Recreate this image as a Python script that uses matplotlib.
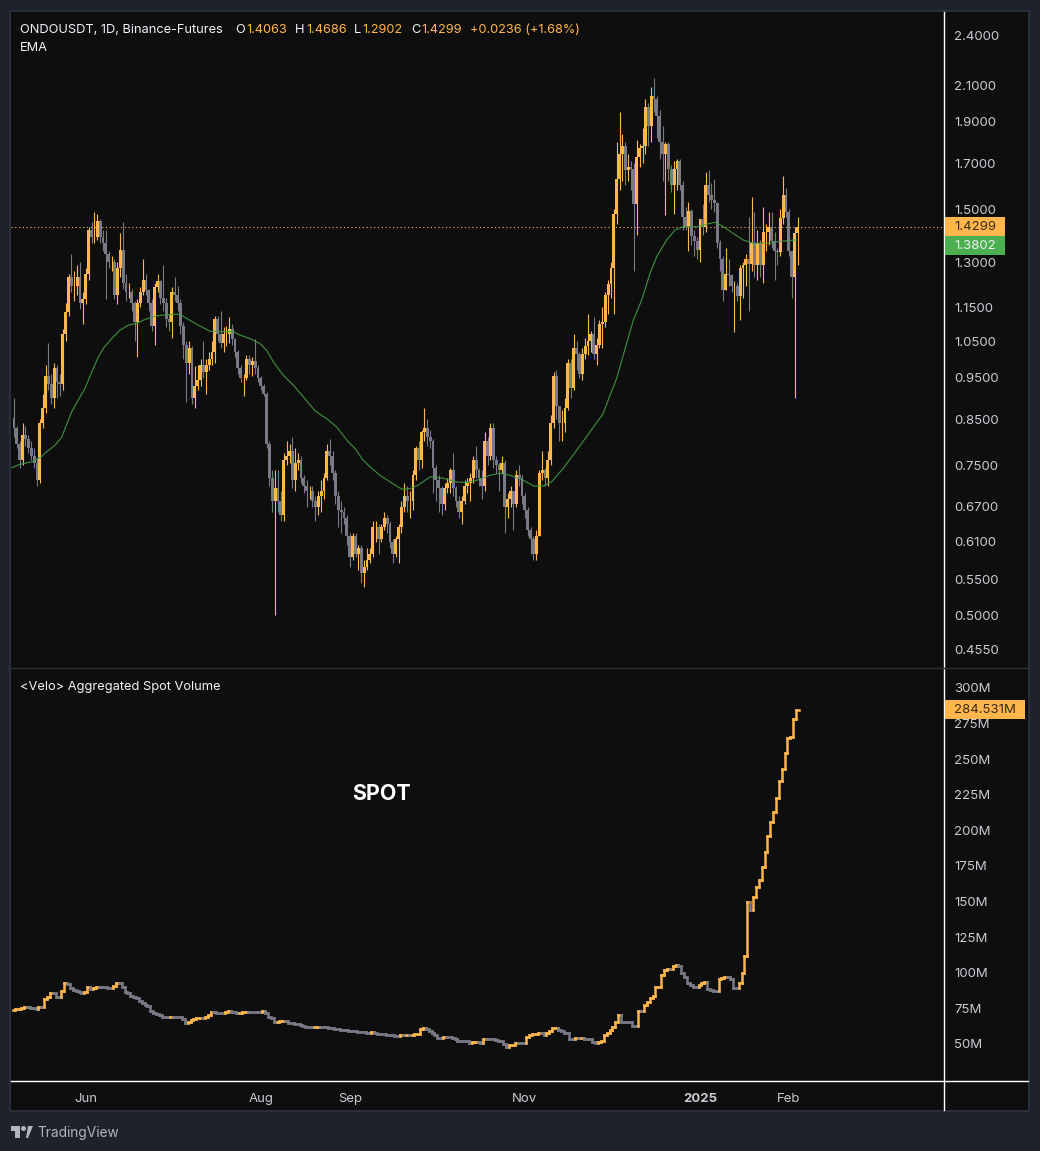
import numpy as np
import matplotlib
matplotlib.use("Agg")
import matplotlib.pyplot as plt
from matplotlib.collections import LineCollection
from matplotlib.patches import Rectangle, Polygon, Circle

plt.rcParams["font.family"] = ["Inter", "DejaVu Sans"]

start_day = np.datetime64("2024-05-07")

first_open = 0.853
closes = [
    .83, .795, .76, .815, .805, .785, .77, .755, .72, .84,
    .875, .955, .935, .90, .975, .94, .935, 1.07, 1.135, 1.25,
    1.22, 1.22, 1.25, 1.165, 1.175, 1.26, 1.42, 1.39, 1.39, 1.455,
    1.39, 1.37, 1.33, 1.30, 1.30, 1.19, 1.28, 1.345, 1.23, 1.20,
    1.20, 1.165, 1.105, 1.165, 1.20, 1.24, 1.205, 1.165, 1.095, 1.215,
    1.235, 1.18, 1.165, 1.115, 1.105, 1.20, 1.19, 1.165, 1.095, 1.04,
    .99, 1.03, .90, .93, .945, .985, .965, .985, 1.00, 1.02,
    1.115, 1.07, 1.045, 1.07, 1.07, 1.085, 1.055, 1.02, .975, .95,
    .95, 1.0, .985, .995, .975, .95, .93, .91, .795, .725,
    .68, .705, .68, .655, .76, .77, .78, .72, .755, .76,
    .725, .71, .70, .70, .68, .67, .69, .70, .725, .78,
    .77, .735, .69, .665, .66, .65, .62, .585, .62, .59,
    .60, .56, .57, .58, .59, .635, .635, .615, .635, .65,
    .64, .61, .59, .615, .635, .67, .69, .68, .68, .73,
    .785, .76, .82, .83, .81, .80, .745, .72, .705, .675,
    .705, .715, .74, .705, .68, .66, .68, .71, .715, .725,
    .76, .74, .725, .71, .80, .77, .83, .76, .75, .74,
    .755, .67, .685, .70, .675, .73, .725, .69, .665, .63,
    .615, .59, .62, .735, .74, .725, .76, .84, .955, .88,
    .84, .84, .875, .99, .925, 1.03, 1.015, .96, 1.015, 1.035,
    1.05, 1.07, 1.015, 1.04, 1.10, 1.105, 1.19, 1.225, 1.28, 1.48,
    1.63, 1.74, 1.78, 1.67, 1.68, 1.675, 1.52, 1.73, 1.77, 1.78,
    1.98, 1.88, 2.04, 2.02, 1.93, 1.80, 1.74, 1.79, 1.675, 1.60,
    1.675, 1.71, 1.60, 1.47, 1.43, 1.495, 1.395, 1.375, 1.345, 1.46,
    1.43, 1.60, 1.56, 1.54, 1.525, 1.37, 1.31, 1.205, 1.26, 1.255,
    1.22, 1.22, 1.185, 1.28, 1.29, 1.31, 1.295, 1.37, 1.29, 1.37,
    1.29, 1.41, 1.41, 1.43, 1.375, 1.34, 1.335, 1.465, 1.56, 1.49,
    1.34, 1.25, 1.405, 1.4299,
]
highs = [
    .90, .835, .80, .84, .835, .815, .80, .785, .765, .85,
    .91, .985, 1.045, .96, .99, .985, .96, 1.085, 1.165, 1.26,
    1.33, 1.27, 1.29, 1.30, 1.20, 1.28, 1.43, 1.45, 1.49, 1.48,
    1.46, 1.42, 1.42, 1.34, 1.32, 1.31, 1.30, 1.405, 1.45, 1.26,
    1.23, 1.21, 1.17, 1.175, 1.215, 1.31, 1.26, 1.21, 1.175, 1.23,
    1.26, 1.24, 1.29, 1.18, 1.13, 1.215, 1.25, 1.22, 1.175, 1.105,
    1.05, 1.05, 1.035, .98, .985, 1.0, 1.05, 1.0, 1.02, 1.05,
    1.125, 1.125, 1.14, 1.09, 1.095, 1.12, 1.10, 1.06, 1.025, .985,
    .96, 1.01, 1.01, 1.005, 1.055, .985, .955, .935, .915, .80,
    .74, .74, .74, .70, .775, .80, .795, .81, .785, .775,
    .77, .73, .72, .71, .71, .69, .70, .72, .735, .795,
    .805, .78, .74, .70, .68, .67, .655, .625, .625, .625,
    .605, .605, .58, .60, .60, .645, .645, .64, .64, .66,
    .655, .645, .615, .62, .64, .68, .715, .71, .70, .74,
    .79, .80, .825, .875, .85, .825, .805, .75, .73, .71,
    .715, .725, .745, .775, .71, .69, .69, .72, .725, .735,
    .77, .79, .745, .74, .82, .81, .84, .84, .77, .755,
    .77, .76, .695, .71, .70, .74, .75, .73, .695, .67,
    .635, .62, .63, .74, .78, .745, .78, .86, .965, .97,
    .88, .87, .90, 1.00, 1.00, 1.07, 1.05, 1.02, 1.03, 1.06,
    1.13, 1.08, 1.12, 1.06, 1.11, 1.15, 1.20, 1.24, 1.30, 1.50,
    1.80, 1.95, 1.84, 1.80, 1.74, 1.71, 1.70, 1.81, 1.79, 1.87,
    2.02, 2.0, 2.09, 2.14, 2.04, 1.96, 1.88, 1.80, 1.80, 1.69,
    1.71, 1.72, 1.72, 1.62, 1.51, 1.53, 1.50, 1.42, 1.39, 1.46,
    1.52, 1.66, 1.67, 1.61, 1.63, 1.53, 1.38, 1.32, 1.35, 1.31,
    1.26, 1.235, 1.23, 1.29, 1.30, 1.33, 1.47, 1.55, 1.49, 1.42,
    1.38, 1.51, 1.44, 1.49, 1.49, 1.41, 1.35, 1.50, 1.64, 1.59,
    1.50, 1.34, 1.43, 1.4686,
]
lows = [
    .81, .785, .745, .75, .79, .775, .76, .745, .71, .715,
    .83, .865, .92, .885, .875, .90, .905, .92, 1.05, 1.125,
    1.20, 1.17, 1.19, 1.145, 1.10, 1.16, 1.24, 1.37, 1.37, 1.38,
    1.37, 1.34, 1.175, 1.28, 1.27, 1.175, 1.16, 1.25, 1.21, 1.17,
    1.18, 1.14, 1.05, 1.005, 1.15, 1.19, 1.19, 1.14, 1.08, 1.04,
    1.20, 1.16, 1.14, 1.09, 1.08, 1.06, 1.17, 1.14, 1.07, 1.00,
    .89, .96, .885, .875, .92, .93, .95, .91, .97, .985,
    .99, 1.05, 1.03, 1.02, 1.035, 1.045, 1.04, 1.005, .96, .94,
    .905, .945, .96, .955, .96, .94, .92, .905, .785, .71,
    .66, .50, .66, .645, .645, .75, .755, .705, .70, .74,
    .715, .695, .67, .685, .67, .645, .655, .66, .685, .72,
    .75, .72, .675, .635, .625, .64, .605, .57, .58, .585,
    .565, .545, .54, .565, .575, .585, .61, .59, .61, .63,
    .625, .60, .575, .585, .575, .625, .66, .66, .65, .665,
    .72, .74, .745, .80, .79, .785, .695, .68, .66, .655,
    .665, .695, .695, .69, .67, .65, .64, .675, .695, .68,
    .715, .725, .71, .685, .70, .75, .76, .745, .735, .70,
    .735, .625, .65, .67, .63, .67, .71, .675, .65, .62,
    .59, .58, .58, .62, .72, .71, .71, .75, .83, .85,
    .80, .80, .82, .87, .90, .92, .97, .95, .945, 1.0,
    1.01, 1.02, 1.0, .985, 1.03, 1.03, 1.09, 1.13, 1.18, 1.13,
    1.44, 1.58, 1.62, 1.60, 1.62, 1.58, 1.27, 1.40, 1.68, 1.70,
    1.74, 1.78, 1.80, 1.95, 1.82, 1.72, 1.62, 1.475, 1.62, 1.57,
    1.48, 1.58, 1.58, 1.42, 1.42, 1.34, 1.36, 1.32, 1.31, 1.30,
    1.40, 1.41, 1.53, 1.50, 1.49, 1.35, 1.27, 1.17, 1.205, 1.22,
    1.20, 1.075, 1.17, 1.11, 1.18, 1.22, 1.14, 1.27, 1.25, 1.24,
    1.25, 1.23, 1.34, 1.36, 1.35, 1.24, 1.29, 1.32, 1.44, 1.47,
    1.32, 1.18, .90, 1.2902,
]

# EMA, the index is fractional where it fell between candles
ema_index = [-0.8, 2.1, 6.7, 9.6, 11.4, 14.3, 16.6, 18.4, 20.1, 22.4, 24.7, 27.1, 29.4, 31.1, 34, 36.9,
             39.8, 42.7, 45.6, 49.7, 54.4, 57.8, 60.2, 63.6, 68.3, 72.9, 76.4, 78.7, 82.2, 85.7, 88,
             90.4, 93.8, 97.3, 100.8, 104.9, 108.9, 112.4, 116.5, 118.8, 121.7, 124.6, 127.5, 131,
             135.1, 138, 140.9, 145, 149.6, 154.2, 157.7, 161.2, 165.9, 169.3, 172.8, 177.5, 181,
             184.4, 187.3, 191.4, 196, 200.7, 205.3, 207.7, 210, 212.3, 215.8, 218.7, 221.6, 223.9,
             227.4, 230.3, 233.2, 237.9, 241.4, 244.3, 247.1, 250.6, 254.1, 257.6, 262.3, 266.9,
             271.6, 272.7]
ema_values = [.745, .752, .758, .768, .778, .792, .809, .839, .867, .895, .923, .966, 1.006, 1.029,
              1.057, 1.081, 1.096, 1.101, 1.113, 1.124, 1.128, 1.129, 1.116, 1.099, 1.078, 1.077,
              1.077, 1.067, 1.057, 1.043, 1.024, .992, .957, .932, .903, .869, .851, .832, .799,
              .785, .760, .744, .730, .717, .703, .704, .711, .727, .724, .717, .716, .720, .730,
              .734, .730, .720, .709, .709, .717, .744, .781, .821, .863, .907, .949, 1.011, 1.111,
              1.173, 1.261, 1.319, 1.38, 1.418, 1.431, 1.431, 1.441, 1.448, 1.431, 1.405, 1.38,
              1.368, 1.368, 1.375, 1.38, 1.3802]

spot_volume = [
    74, 74.4, 74.8, 75.3, 75.8, 75.8, 75.5, 75.5, 74.8, 76.2,
    76.2, 81.4, 82.8, 86, 86, 82.8, 82.8, 87.5, 92.6, 92.2,
    89, 88, 87.2, 86.3, 85.6, 86.3, 90.3, 88.4, 89, 90.3,
    90.3, 90.3, 90.3, 89.3, 89.3, 90.7, 92.6, 92.6, 90.3, 86.3,
    85.6, 84, 82.8, 82, 80.5, 79, 77.4, 76.7, 73.4, 72,
    71, 70.4, 68.8, 68.8, 68.8, 69.2, 69.2, 69.2, 69.2, 67.3,
    65, 65.7, 66.9, 67.3, 68, 68.5, 68.5, 69.2, 70.4, 72.7,
    72.7, 72, 72, 72, 72.7, 73.2, 72.7, 72.3, 71.6, 72,
    72.3, 72.7, 72.7, 72.7, 72.7, 72.7, 72.7, 73.4, 71.6, 69.2,
    68, 65.2, 65.7, 66, 66.4, 66, 65, 65, 64.3, 63.8,
    63.4, 62.7, 61.7, 61.7, 61.7, 62, 62.2, 62.2, 62.2, 62.2,
    61.5, 61, 60.3, 60.3, 60, 59.9, 59.6, 59.4, 59.2, 59,
    58.7, 58.5, 58.2, 58, 58, 58.5, 58, 57.3, 57, 56.8,
    56.6, 56.3, 56.3, 55.9, 55.9, 56.2, 56.2, 56.4, 56.4, 56.6,
    56.8, 57, 60.6, 61, 60.6, 59.2, 58, 56.4, 54.3, 54.3,
    54.8, 54.8, 54.8, 54.3, 53.3, 52.4, 52.2, 52, 52, 51,
    51.2, 51.5, 51.5, 50.5, 53.8, 53.8, 53.8, 53.8, 52.9, 52,
    52, 50, 48.2, 49.1, 49.4, 51, 50.5, 50.5, 50.5, 54.8,
    56.2, 56.9, 57.3, 57.8, 57.8, 56.6, 58, 59.4, 61.3, 61.5,
    59.9, 59.2, 58, 58, 53.3, 53.3, 54.3, 54.1, 54.3, 53.8,
    53.8, 53.8, 51.5, 50.5, 51.5, 52.2, 56.4, 58, 59.9, 62.2,
    65.7, 70.4, 65.7, 65.7, 65.7, 65.7, 62.9, 62.9, 73.2, 73.2,
    77.5, 79.8, 82.1, 84, 89.9, 90.3, 98.5, 101.6, 102.5, 102.5,
    105, 105.3, 104.8, 100.1, 97.3, 93.1, 91.3, 90.3, 90.3, 91.3,
    93.1, 93.8, 88.4, 88, 87.3, 87.3, 95.9, 96.6, 97.3, 96.9,
    95.9, 89.2, 89.2, 92.7, 99.7, 111.8, 150, 144, 153, 160,
    165, 174, 185, 195.7, 206, 213, 223, 235, 243, 254.6,
    264.7, 265.9, 278, 284.531,
]

price_ticks = [2.4, 2.1, 1.9, 1.7, 1.5, 1.3, 1.15, 1.05, 0.95, 0.85, 0.75, 0.67, 0.61, 0.55, 0.5, 0.455]
volume_ticks = [50, 75, 100, 125, 150, 175, 200, 225, 250, 275, 300]
month_days = ["2024-06-01", "2024-08-01", "2024-09-01", "2024-11-01", "2025-01-01", "2025-02-01"]
month_labels = ["Jun", "Aug", "Sep", "Nov", "2025", "Feb"]

last_price = 1.4299
last_ema = 1.3802
last_volume = 284.531

BG = "#1e222d"
PANEL = "#0e0e0e"
ORANGE = "#ffb74d"
GRAY = "#787b86"
GREEN = "#43a047"
TEXT = "#c8cbd2"

W, H = 1040, 1151
fig = plt.figure(figsize=(W / 100, H / 100), dpi=100, facecolor=BG)


def px_axes(x0, y0, x1, y1):
    return fig.add_axes([x0 / W, 1 - y1 / H, (x1 - x0) / W, (y1 - y0) / H])


def px_text(x, y, s, **kw):
    kw.setdefault("va", "center")
    kw.setdefault("color", TEXT)
    kw.setdefault("fontsize", 9.2)
    fig.text(x / W, 1 - y / H, s, **kw)


def px_rect(x0, y0, x1, y1, color, zorder=1):
    fig.add_artist(Rectangle((x0 / W, 1 - y1 / H), (x1 - x0) / W, (y1 - y0) / H,
                             transform=fig.transFigure, facecolor=color, edgecolor="none", zorder=zorder))


px_rect(11, 12, 1028, 1110, PANEL, zorder=-5)
px_rect(9, 10, 1030, 12, "#2a2e39", zorder=-6)
px_rect(9, 1110, 1030, 1112, "#2a2e39", zorder=-6)
px_rect(9, 10, 11, 1112, "#2a2e39", zorder=-6)
px_rect(1028, 10, 1030, 1112, "#2a2e39", zorder=-6)

ax_price = px_axes(11, 12, 944, 668)
ax_vol = px_axes(11, 668, 944, 1081)

x_left, x_right = -1.05, 324.04
n = len(closes)
x = np.arange(n)
closes = np.array(closes)
opens = np.r_[first_open, closes[:-1]]
highs = np.array(highs)
lows = np.array(lows)
up = closes >= opens

# gray first so the orange candles sit on top, as in the original
for mask, colour, z in [(~up, GRAY, 2), (up, ORANGE, 2.2)]:
    wicks = ax_price.vlines(x[mask], lows[mask], highs[mask], colors=colour, linewidth=0.8, zorder=z)
    wicks.set_snap(True)
    ax_price.bar(x[mask], np.abs(closes - opens)[mask], bottom=np.minimum(opens, closes)[mask], width=1.0,
                 color=colour, linewidth=0, zorder=z + 0.1)
ax_price.plot(ema_index, ema_values, color=GREEN, linewidth=0.85, alpha=0.85, zorder=3)
ax_price.axhline(last_price, color=ORANGE, linewidth=0.8, linestyle=(0, (1, 2.4)), zorder=1.5)

ax_price.set_yscale("log")
ax_price.set_ylim(0.4332, 2.559)
ax_price.set_xlim(x_left, x_right)
ax_price.set_xticks([])
ax_price.yaxis.tick_right()
ax_price.set_yticks(price_ticks)
ax_price.set_yticklabels(["%.4f" % v for v in price_ticks])
ax_price.minorticks_off()

# step line, one colour per day
volume = np.array(spot_volume)
segments = []
segment_colors = []
for i in range(n):
    rising = i == 0 or volume[i] > volume[i - 1]
    if i > 0:
        segments.append([(i - 0.5, volume[i - 1]), (i - 0.5, volume[i])])
        segment_colors.append(ORANGE if rising else GRAY)
    segments.append([(i - 0.5, volume[i]), (i + 0.5, volume[i])])
    segment_colors.append(ORANGE if rising else GRAY)
ax_vol.add_collection(LineCollection(segments, colors=segment_colors, linewidths=1.8, capstyle="projecting"))

ax_vol.set_xlim(x_left, x_right)
ax_vol.set_ylim(24.0, 314.0)
ax_vol.yaxis.tick_right()
ax_vol.set_yticks(volume_ticks)
ax_vol.set_yticklabels(["%dM" % v for v in volume_ticks])

tick_index = [(np.datetime64(d) - start_day).astype(int) for d in month_days]
ax_vol.set_xticks(tick_index)
ax_vol.set_xticklabels(month_labels)
for lab in ax_vol.get_xticklabels():
    if lab.get_text() == "2025":
        lab.set_fontweight("bold")

for ax in (ax_price, ax_vol):
    ax.set_facecolor("none")
    for side in ("left", "top", "bottom", "right"):
        ax.spines[side].set_visible(False)
    ax.tick_params(axis="both", length=0, labelsize=9.5, labelcolor=TEXT)
    ax.tick_params(axis="y", pad=7.5)
ax_vol.tick_params(axis="x", pad=8.6)

# white crosshair lines and pane divider
fig.add_artist(plt.Line2D([944 / W, 944 / W], [1 - 12 / H, 1 - 1110 / H], color="white", linewidth=1))
fig.add_artist(plt.Line2D([11 / W, 1028 / W], [1 - 1081 / H, 1 - 1081 / H], color="white", linewidth=1))
fig.add_artist(plt.Line2D([11 / W, 944 / W], [1 - 668 / H, 1 - 668 / H], color="#2a2e39", linewidth=1))
fig.add_artist(plt.Line2D([944 / W, 1028 / W], [1 - 668 / H, 1 - 668 / H], color="#2a2e39", linewidth=1))

# price tags on the right scale
to_px = lambda ax, v: H - ax.transData.transform((0, v))[1]
tag_font = {"ha": "left", "fontsize": 9.5, "zorder": 6}
y_tag = to_px(ax_price, last_price)
px_rect(945, y_tag - 9.5, 1005, y_tag + 9.5, ORANGE, zorder=5)
px_text(954, y_tag + 0.5, "%.4f" % last_price, color="#3a2b12", **tag_font)
y_tag = y_tag + 19
px_rect(945, y_tag - 9.5, 1005, y_tag + 9.5, "#4caf50", zorder=5)
px_text(954, y_tag + 0.5, "%.4f" % last_ema, color="#e8f5e9", **tag_font)
y_tag = to_px(ax_vol, last_volume)
px_rect(945, y_tag - 9.5, 1025, y_tag + 9.5, ORANGE, zorder=5)
px_text(954, y_tag + 0.5, "%.3fM" % last_volume, color="#3a2b12", **tag_font)

# legend row
white = "#f0f3fa"
px_text(20, 30, "ONDOUSDT, 1D, Binance-Futures", color=white)
for pos, s, c in [(235, "O", white), (246, "1.4063", ORANGE), (295, "H", white), (306, "1.4686", ORANGE),
                  (354, "L", white), (362, "1.2902", ORANGE), (411, "C", white), (421, "1.4299", ORANGE),
                  (470, "+0.0236 (+1.68%)", ORANGE)]:
    px_text(pos, 30, s, color=c)
px_text(20, 48, "EMA", color=white)
px_text(20, 687, "<Velo> Aggregated Spot Volume", color=white, fontsize=9.25)
px_text(352, 794, "SPOT", color="white", fontsize=15.4, fontweight="bold")

# footer logo and name
logo = "#b2b5be"
px_rect(11, 1126, 20, 1131, logo)
px_rect(15, 1126, 20, 1138, logo)
fig.add_artist(Circle((23.5, H - 1128.5), 2.5, transform=None, facecolor=logo, edgecolor="none"))
fig.add_artist(Polygon([(26, H - 1138), (28, H - 1138), (33, H - 1126), (28, H - 1126)], transform=None,
                       facecolor=logo, edgecolor="none"))
px_text(37, 1133, "TradingView", color=logo, fontsize=9.9)

fig.savefig("out.png", dpi=100, facecolor=BG)
